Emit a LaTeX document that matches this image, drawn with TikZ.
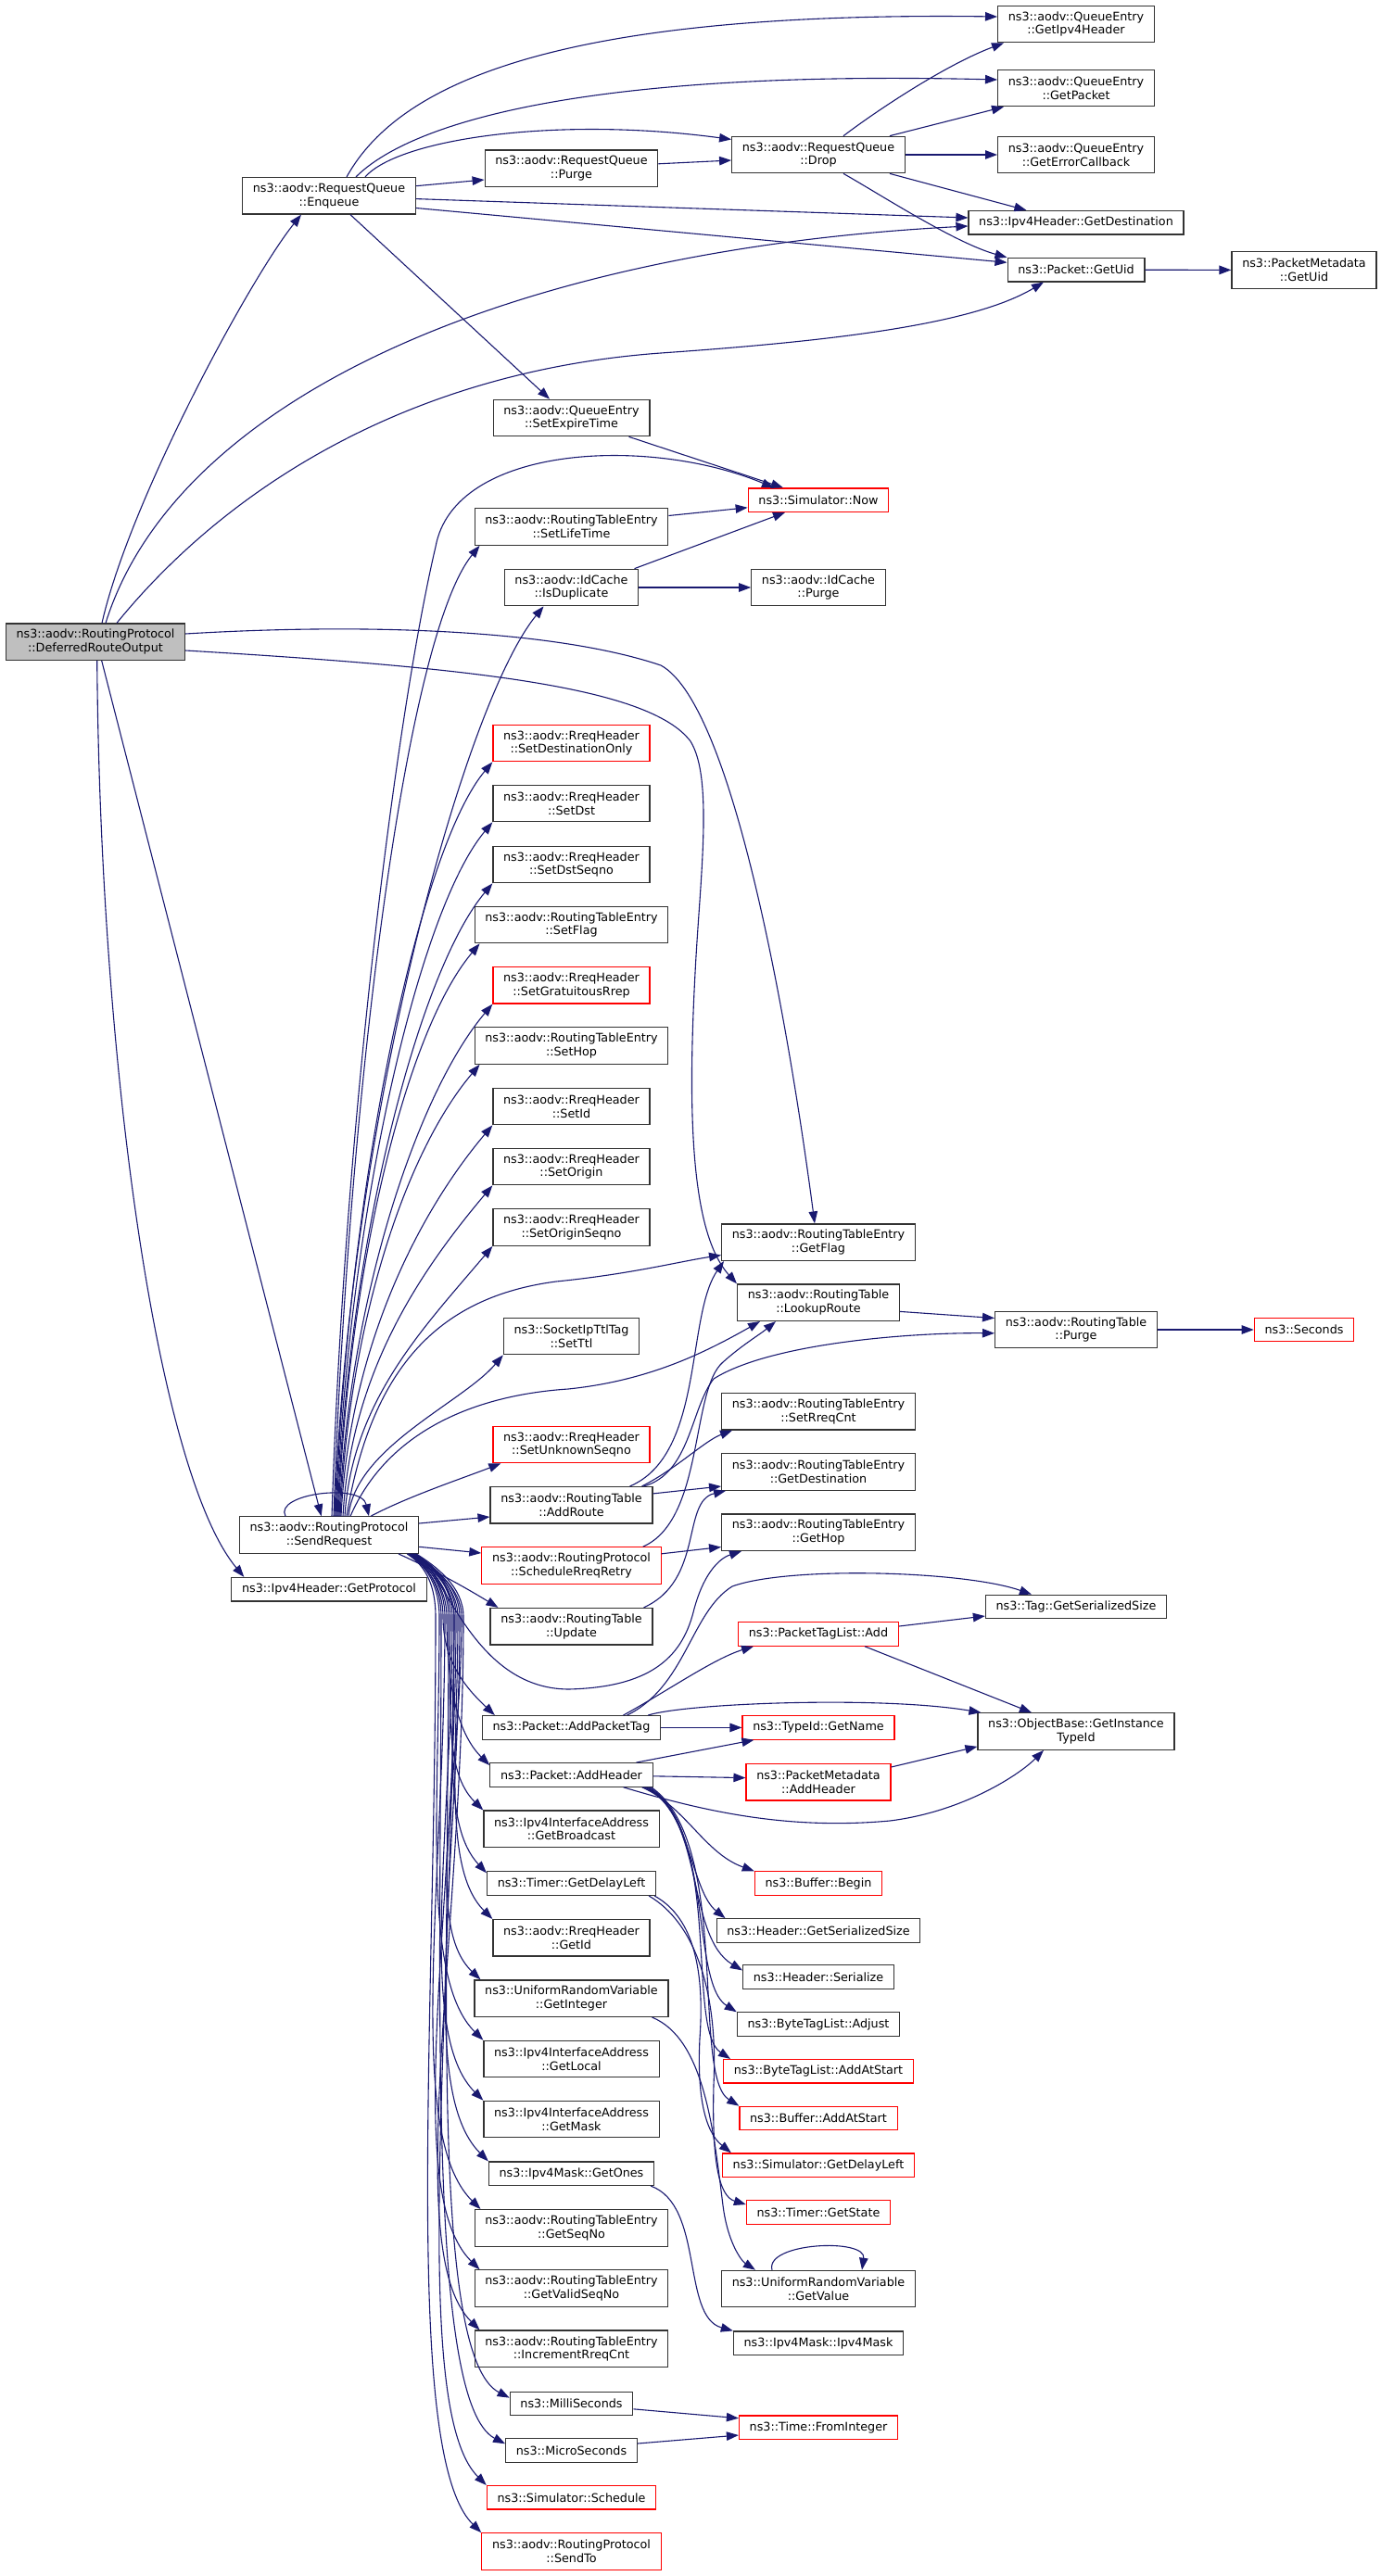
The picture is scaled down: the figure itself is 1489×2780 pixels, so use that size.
\documentclass[tikz,border=0pt]{standalone}
\usepackage{fontspec}
\setmainfont{DejaVu Sans}
\usepackage{tikz}
\usetikzlibrary{arrows.meta,calc}
\definecolor{edgeBlue}{HTML}{191970}
\definecolor{boxRed}{HTML}{FF0000}
\newcommand{\fnFont}{\fontsize{12.75}{14.7}\selectfont}
\tikzstyle{fnBox}=[draw=black!80, fill=white, line width=1.2pt, inner xsep=11.2pt, inner ysep=0pt, minimum height=25.5pt, align=center, font=\fnFont]
\tikzstyle{fnBoxRed}=[fnBox, draw=boxRed]
\tikzstyle{rootBox}=[fnBox, fill=black!25]
\tikzstyle{tall}=[minimum height=39.5pt]
\tikzstyle{callEdge}=[draw=edgeBlue, line width=1.1pt, -{Triangle[length=13pt, width=9.5pt]}]

\begin{document}
\begin{tikzpicture}[x=1pt, y=-1pt]
      \useasboundingbox (0,0) rectangle (1489,2780);
      % callers
      \node(dro) [rootBox, tall] at (103, 692.7){ns3::aodv::RoutingProtocol\\::DeferredRouteOutput};
      \node(enq) [fnBox, tall] at (355, 211.3){ns3::aodv::RequestQueue\\::Enqueue};
      \node(sreq) [fnBox, tall] at (355, 1656.6){ns3::aodv::RoutingProtocol\\::SendRequest};
      \node(gproto) [fnBox] at (355, 1715.2){ns3::Ipv4Header::GetProtocol};
      % third column
      \node(rqpurge) [fnBox, tall] at (616.5, 181.8){ns3::aodv::RequestQueue\\::Purge};
      \node(setexp) [fnBox, tall] at (616.5, 451){ns3::aodv::QueueEntry\\::SetExpireTime};
      \node(setlife) [fnBox, tall] at (616.5, 568.5){ns3::aodv::RoutingTableEntry\\::SetLifeTime};
      \node(isdup) [fnBox, tall] at (616.5, 634){ns3::aodv::IdCache\\::IsDuplicate};
      \node(setdo) [fnBoxRed, tall] at (616.5, 802){ns3::aodv::RreqHeader\\::SetDestinationOnly};
      \node(setdst) [fnBox, tall] at (616.5, 867){ns3::aodv::RreqHeader\\::SetDst};
      \node(setdsn) [fnBox, tall] at (616.5, 933){ns3::aodv::RreqHeader\\::SetDstSeqno};
      \node(setflag) [fnBox, tall] at (616.5, 998){ns3::aodv::RoutingTableEntry\\::SetFlag};
      \node(setgr) [fnBoxRed, tall] at (616.5, 1063.3){ns3::aodv::RreqHeader\\::SetGratuitousRrep};
      \node(sethop) [fnBox, tall] at (616.5, 1128.5){ns3::aodv::RoutingTableEntry\\::SetHop};
      \node(setid) [fnBox, tall] at (616.5, 1194){ns3::aodv::RreqHeader\\::SetId};
      \node(setorig) [fnBox, tall] at (616.5, 1259){ns3::aodv::RreqHeader\\::SetOrigin};
      \node(setosn) [fnBox, tall] at (616.5, 1324.6){ns3::aodv::RreqHeader\\::SetOriginSeqno};
      \node(setttl) [fnBox, tall] at (616.5, 1442){ns3::SocketIpTtlTag\\::SetTtl};
      \node(setusn) [fnBoxRed, tall] at (616.5, 1559){ns3::aodv::RreqHeader\\::SetUnknownSeqno};
      \node(addroute) [fnBox, tall] at (616.5, 1624.3){ns3::aodv::RoutingTable\\::AddRoute};
      \node(schedrr) [fnBoxRed, tall] at (616.5, 1689.5){ns3::aodv::RoutingProtocol\\::ScheduleRreqRetry};
      \node(update) [fnBox, tall] at (616.5, 1755.2){ns3::aodv::RoutingTable\\::Update};
      \node(addptag) [fnBox] at (616.5, 1864.4){ns3::Packet::AddPacketTag};
      \node(addhdr) [fnBox] at (616.5, 1915.4){ns3::Packet::AddHeader};
      \node(getbc) [fnBox, tall] at (616.5, 1973.8){ns3::Ipv4InterfaceAddress\\::GetBroadcast};
      \node(tgdl) [fnBox] at (616.5, 2032.6){ns3::Timer::GetDelayLeft};
      \node(getid) [fnBox, tall] at (616.5, 2091.3){ns3::aodv::RreqHeader\\::GetId};
      \node(getint) [fnBox, tall] at (616.5, 2156.7){ns3::UniformRandomVariable\\::GetInteger};
      \node(getlocal) [fnBox, tall] at (616.5, 2222){ns3::Ipv4InterfaceAddress\\::GetLocal};
      \node(getmask) [fnBox, tall] at (616.5, 2287){ns3::Ipv4InterfaceAddress\\::GetMask};
      \node(getones) [fnBox] at (616.5, 2345.7){ns3::Ipv4Mask::GetOnes};
      \node(getseq) [fnBox, tall] at (616.5, 2404.4){ns3::aodv::RoutingTableEntry\\::GetSeqNo};
      \node(getvseq) [fnBox, tall] at (616.5, 2469.6){ns3::aodv::RoutingTableEntry\\::GetValidSeqNo};
      \node(incrc) [fnBox, tall] at (616.5, 2534.8){ns3::aodv::RoutingTableEntry\\::IncrementRreqCnt};
      \node(msec) [fnBox] at (616.5, 2594){ns3::MilliSeconds};
      \node(usec) [fnBox] at (616.5, 2644.6){ns3::MicroSeconds};
      \node(sched) [fnBoxRed] at (616.5, 2695.3){ns3::Simulator::Schedule};
      \node(sendto) [fnBoxRed, tall] at (616.5, 2753.5){ns3::aodv::RoutingProtocol\\::SendTo};
      % fourth column
      \node(drop) [fnBox, tall] at (883, 167){ns3::aodv::RequestQueue\\::Drop};
      \node(now) [fnBoxRed] at (883, 539.7){ns3::Simulator::Now};
      \node(idpurge) [fnBox, tall] at (883, 634){ns3::aodv::IdCache\\::Purge};
      \node(getflag) [fnBox, tall] at (883, 1340.7){ns3::aodv::RoutingTableEntry\\::GetFlag};
      \node(lookup) [fnBox, tall] at (883, 1405.7){ns3::aodv::RoutingTable\\::LookupRoute};
      \node(setrc) [fnBox, tall] at (883, 1523.3){ns3::aodv::RoutingTableEntry\\::SetRreqCnt};
      \node(getdest) [fnBox, tall] at (883, 1588.5){ns3::aodv::RoutingTableEntry\\::GetDestination};
      \node(gethop) [fnBox, tall] at (883, 1653.7){ns3::aodv::RoutingTableEntry\\::GetHop};
      \node(ptladd) [fnBoxRed] at (883, 1763.4){ns3::PacketTagList::Add};
      \node(getname) [fnBoxRed] at (883, 1864.4){ns3::TypeId::GetName};
      \node(pmaddh) [fnBoxRed, tall] at (883, 1923.3){ns3::PacketMetadata\\::AddHeader};
      \node(bufbegin) [fnBoxRed] at (883, 2032.6){ns3::Buffer::Begin};
      \node(hgss) [fnBox] at (883, 2083.5){ns3::Header::GetSerializedSize};
      \node(hser) [fnBox] at (883, 2133.4){ns3::Header::Serialize};
      \node(btladj) [fnBox] at (883, 2184.6){ns3::ByteTagList::Adjust};
      \node(btlaas) [fnBoxRed] at (883, 2235.3){ns3::ByteTagList::AddAtStart};
      \node(bufaas) [fnBoxRed] at (883, 2286){ns3::Buffer::AddAtStart};
      \node(simgdl) [fnBoxRed] at (883, 2336.7){ns3::Simulator::GetDelayLeft};
      \node(tgstate) [fnBoxRed] at (883, 2387.4){ns3::Timer::GetState};
      \node(getval) [fnBox, tall] at (883, 2470){ns3::UniformRandomVariable\\::GetValue};
      \node(maskctor) [fnBox] at (883, 2528.7){ns3::Ipv4Mask::Ipv4Mask};
      \node(fromint) [fnBoxRed] at (883, 2619.7){ns3::Time::FromInteger};
      % fifth and sixth column
      \node(qipv4) [fnBox, tall] at (1161, 26){ns3::aodv::QueueEntry\\::GetIpv4Header};
      \node(qpkt) [fnBox, tall] at (1161, 95){ns3::aodv::QueueEntry\\::GetPacket};
      \node(qerr) [fnBox, tall] at (1161, 167){ns3::aodv::QueueEntry\\::GetErrorCallback};
      \node(gdest) [fnBox] at (1161, 240.2){ns3::Ipv4Header::GetDestination};
      \node(guid) [fnBox] at (1161, 291.2){ns3::Packet::GetUid};
      \node(rtpurge) [fnBox, tall] at (1161, 1435){ns3::aodv::RoutingTable\\::Purge};
      \node(tgss) [fnBox] at (1161, 1734){ns3::Tag::GetSerializedSize};
      \node(gitid) [fnBox, tall] at (1161, 1868.5){ns3::ObjectBase::GetInstance\\TypeId};
      \node(pmguid) [fnBox, tall] at (1407, 291.4){ns3::PacketMetadata\\::GetUid};
      \node(secs) [fnBoxRed] at (1407, 1435){ns3::Seconds};

      % DeferredRouteOutput
      \draw[callEdge] ([xshift=7pt]dro.north) .. controls (140,540) and (270,300) .. ([xshift=-30pt]enq.south);
      \draw[callEdge] ([xshift=11pt]dro.north) .. controls (190,430) and (550,270) .. ([yshift=-3.8pt]gdest.west);
      \draw[callEdge] ([xshift=23pt]dro.north) .. controls (250,520) and (450,400) .. (713,381) .. controls (900,368) and (1050,350) .. ([xshift=-35pt]guid.south);
      \draw[callEdge] ([yshift=8.7pt]dro.east) .. controls (400,672) and (600,680) .. (713,718) .. controls (790,760) and (850,1100) .. ([xshift=-4pt]getflag.north);
      \draw[callEdge] ([yshift=-9.3pt]dro.east) .. controls (500,720) and (700,740) .. (745,800) .. controls (770,840) and (755,950) .. (750,1050) .. controls (742,1200) and (745,1330) .. (lookup.north west);
      \draw[callEdge] ([xshift=6.7pt]dro.south) -- ([xshift=-8.3pt]sreq.north);
      \draw[callEdge] ([xshift=1.7pt]dro.south) .. controls (108,1150) and (170,1590) .. ([xshift=14pt]gproto.north west);

      % Enqueue, Purge, Drop
      \draw[callEdge] ([xshift=19pt]enq.north) .. controls (430,90) and (600,12) .. ([yshift=8pt]qipv4.west);
      \draw[callEdge] ([xshift=29pt]enq.north) .. controls (440,135) and (620,75) .. ([yshift=9pt]qpkt.west);
      \draw[callEdge] ([xshift=39pt]enq.north) .. controls (430,150) and (600,125) .. (drop.170);
      \draw[callEdge] ([yshift=10.6pt]enq.east) -- ([yshift=-12.2pt]rqpurge.west);
      \draw[callEdge] ([yshift=-3.3pt]enq.east) -- ([yshift=5.2pt]gdest.west);
      \draw[callEdge] ([yshift=-13.2pt]enq.east) -- ([yshift=7.9pt]guid.west);
      \draw[callEdge] ([xshift=23pt]enq.south) -- ([xshift=-23.5pt]setexp.north);
      \draw[callEdge] ([yshift=5pt]rqpurge.east) -- ([yshift=-6pt]drop.west);
      \draw[callEdge] ([xshift=27pt]drop.north) .. controls (945,120) and (1020,70) .. ([xshift=7pt]qipv4.south west);
      \draw[callEdge] ([xshift=-17pt]drop.north east) -- ([xshift=7pt]qpkt.south west);
      \draw[callEdge] (drop.east) -- (qerr.west);
      \draw[callEdge] ([xshift=-17pt]drop.south east) -- ([xshift=63pt]gdest.north west);
      \draw[callEdge] ([xshift=27pt]drop.south) .. controls (950,210) and (1030,262) .. (guid.north west);
      \draw[callEdge] (guid.east) -- (pmguid.west);
      \draw[callEdge] ([xshift=62pt]setexp.south) -- ([xshift=-38pt]now.north);
      \draw[callEdge] ([yshift=12pt]setlife.east) -- ([yshift=-8.1pt]now.west);
      \draw[callEdge] ([xshift=68pt]isdup.north) -- ([xshift=-36pt]now.south);
      \draw[callEdge] (isdup.east) -- (idpurge.west);

      % SendRequest, upwards
      \draw[callEdge] ([xshift=-47pt]sreq.north) .. controls (295,1612) and (390,1600) .. ([xshift=43pt]sreq.north);
      \draw[callEdge] ([xshift=3pt]sreq.north) .. controls (372,1200) and (430,760) .. (470,590) .. controls (490,480) and (700,470) .. ([xshift=-48pt]now.north);
      \draw[callEdge] ([xshift=5pt]sreq.north) .. controls (375.5,1188) and (436.7,688) .. ([xshift=6pt]setlife.south west);
      \draw[callEdge] ([xshift=6pt]sreq.north) .. controls (376,1214) and (500,760) .. ([xshift=-30pt]isdup.south);
      \draw[callEdge] ([xshift=7pt]sreq.north) .. controls (375,1286) and (451,918) .. (setdo.south west);
      \draw[callEdge] ([xshift=8pt]sreq.north) .. controls (375.5,1314.5) and (451,983) .. (setdst.south west);
      \draw[callEdge] ([xshift=9pt]sreq.north) .. controls (376,1343) and (451,1049) .. (setdsn.south west);
      \draw[callEdge] ([xshift=10pt]sreq.north) .. controls (376,1371) and (437,1114) .. ([xshift=6pt]setflag.south west);
      \draw[callEdge] ([xshift=11pt]sreq.north) .. controls (376.5,1399) and (451,1179) .. (setgr.south west);
      \draw[callEdge] ([xshift=12pt]sreq.north) .. controls (377,1427) and (437,1244) .. ([xshift=6pt]sethop.south west);
      \draw[callEdge] ([xshift=13pt]sreq.north) .. controls (377,1455) and (451,1309.5) .. (setid.south west);
      \draw[callEdge] ([xshift=15pt]sreq.north) .. controls (378.6,1483) and (451,1374.7) .. (setorig.south west);
      \draw[callEdge] ([xshift=17pt]sreq.north) .. controls (380,1511) and (458,1432) .. (setosn.south west);
      \draw[callEdge] ([xshift=19pt]sreq.north) .. controls (400,1480) and (470,1400) .. (600,1383) .. controls (680,1375) and (730,1362) .. ([yshift=-13.8pt]getflag.west);
      \draw[callEdge] ([xshift=21pt]sreq.north) .. controls (383,1562) and (499,1514) .. (setttl.south west);
      \draw[callEdge] ([xshift=23pt]sreq.north) .. controls (420,1540) and (520,1505) .. (613,1499) .. controls (700,1490) and (760,1460) .. ([xshift=25pt]lookup.south west);
      \draw[callEdge] ([xshift=45pt]sreq.north) .. controls (440,1615) and (500,1595) .. ([xshift=9pt]setusn.south west);
      \draw[callEdge] ([yshift=12.6pt]sreq.east) -- ([yshift=-12.7pt]addroute.west);
      \draw[callEdge] ([yshift=-12.7pt]sreq.east) -- ([yshift=13.5pt]schedrr.west);

      % SendRequest, downwards
      \draw[callEdge] ([xshift=75pt]sreq.south) .. controls (470,1695) and (505,1715) .. ([xshift=9pt]update.north west);
      \draw[callEdge] ([xshift=-4pt]sreq.south east) .. controls (480,1695) and (510,1822) .. (613,1823) .. controls (700,1821) and (735,1790) .. (748,1740) .. controls (758,1700) and (775,1682) .. ([xshift=22pt]gethop.south west);
      \draw[callEdge] ([xshift=-12pt]sreq.south east) .. controls (461,1690) and (478,1712) .. (478,1745) .. controls (478,1793) and (503,1822) .. ([xshift=14pt]addptag.north west);
      \draw[callEdge] ([xshift=-11pt]sreq.south east) .. controls (462,1690) and (482,1712) .. (482,1745) .. controls (482,1817) and (493,1870) .. ([yshift=-3pt]addhdr.north west);
      \draw[callEdge] ([xshift=-10pt]sreq.south east) .. controls (463,1690) and (486,1712) .. (486,1745) .. controls (486,1839) and (479,1912) .. (getbc.north west);
      \draw[callEdge] ([xshift=-9pt]sreq.south east) .. controls (464,1690) and (490,1712) .. (490,1745) .. controls (490,1868) and (477,1970) .. ([yshift=-2pt]tgdl.north west);
      \draw[callEdge] ([xshift=-8pt]sreq.south east) .. controls (465,1690) and (494,1712) .. (494,1745) .. controls (494,1892) and (477,2017) .. (getid.north west);
      \draw[callEdge] ([xshift=-7pt]sreq.south east) .. controls (466,1690) and (498,1712) .. (498,1745) .. controls (498,1921) and (456,2077) .. ([xshift=7pt]getint.north west);
      \draw[callEdge] ([xshift=-12pt]sreq.south east) .. controls (461,1690) and (474,1712) .. (474,1745) .. controls (474,1951) and (455,2136) .. (getlocal.north west);
      \draw[callEdge] ([xshift=-6pt]sreq.south east) .. controls (467,1690) and (488,1712) .. (488,1745) .. controls (488,1980) and (449,2195) .. (getmask.north west);
      \draw[callEdge] ([xshift=-5pt]sreq.south east) .. controls (468,1690) and (496,1712) .. (496,1745) .. controls (496,2010) and (449,2255) .. (getones.north west);
      \draw[callEdge] ([xshift=-10pt]sreq.south east) .. controls (463,1690) and (480,1712) .. (480,1745) .. controls (480,2033) and (436,2303) .. ([xshift=7pt]getseq.north west);
      \draw[callEdge] ([xshift=-4pt]sreq.south east) .. controls (469,1690) and (492,1712) .. (492,1745) .. controls (492,2062) and (432,2365) .. ([xshift=6pt]getvseq.north west);
      \draw[callEdge] ([xshift=-3pt]sreq.south east) .. controls (470,1690) and (500,1712) .. (500,1745) .. controls (500,2091) and (432,2430) .. ([xshift=6pt]incrc.north west);
      \draw[callEdge] ([xshift=-8pt]sreq.south east) .. controls (465,1690) and (484,1712) .. (484,1745) .. controls (484,2124) and (464,2543) .. ([yshift=-7pt]msec.north west);
      \draw[callEdge] ([xshift=-11pt]sreq.south east) .. controls (462,1690) and (476,1712) .. (476,1745) .. controls (476,2147) and (460,2593) .. ([yshift=-6pt]usec.north west);
      \draw[callEdge] ([xshift=-6pt]sreq.south east) .. controls (467,1690) and (490,1712) .. (490,1745) .. controls (490,2167) and (440,2597.6) .. (sched.north west);
      \draw[callEdge] ([xshift=-13pt]sreq.south east) .. controls (460,1690) and (470,1712) .. (470,1745) .. controls (470,2190) and (433.7,2648.8) .. (sendto.north west);

      % routing table calls
      \draw[callEdge] ([xshift=-12pt]addroute.north east) .. controls (730,1585) and (760,1555) .. ([xshift=12pt]setrc.south west);
      \draw[callEdge] ([yshift=12.4pt]addroute.east) -- ([yshift=-15.5pt]getdest.west);
      \draw[callEdge] ([xshift=-10pt]addroute.north east) .. controls (745,1590) and (745,1520) .. (770,1488) .. controls (830,1450) and (980,1438) .. ([yshift=-3.8pt]rtpurge.west);
      \draw[callEdge] ([xshift=-25pt]addroute.north east) .. controls (760,1570) and (740,1420) .. ([xshift=3pt]getflag.south west);
      \draw[callEdge] ([yshift=12.7pt]schedrr.east) -- ([yshift=-15.8pt]gethop.west);
      \draw[callEdge] ([xshift=-20pt]schedrr.north east) .. controls (760,1640) and (745,1500) .. (780,1470) .. controls (800,1452) and (820,1440) .. ([xshift=42pt]lookup.south west);
      \draw[callEdge] ([xshift=-10pt]update.north east) .. controls (760,1705) and (735,1620) .. ([xshift=5pt]getdest.south west);
      \draw[callEdge] ([yshift=-9.7pt]lookup.east) -- ([yshift=12.5pt]rtpurge.west);
      \draw[callEdge] (rtpurge.east) -- (secs.west);

      % packet calls
      \draw[callEdge] ([xshift=56pt]addptag.north) .. controls (720,1825) and (770,1790) .. ([xshift=17pt]ptladd.south west);
      \draw[callEdge] ([xshift=60pt]addptag.north) .. controls (740,1820) and (745,1740) .. (790,1712) .. controls (850,1690) and (1040,1695) .. ([xshift=-48pt]tgss.north);
      \draw[callEdge] (addptag.east) -- (getname.west);
      \draw[callEdge] ([xshift=-14pt]addptag.north east) .. controls (740,1838) and (950,1830) .. ([xshift=4pt]gitid.north west);
      \draw[callEdge] ([xshift=70pt]addhdr.north) -- ([xshift=13pt]getname.south west);
      \draw[callEdge] ([yshift=-1.4pt]addhdr.east) -- ([yshift=4.7pt]pmaddh.west);
      \draw[callEdge] ([xshift=56pt]addhdr.south) .. controls (760,1955) and (850,1975) .. (960,1965) .. controls (1040,1955) and (1100,1915) .. ([xshift=-35pt]gitid.south);
      \draw[callEdge] ([xshift=-12pt]addhdr.south east) .. controls (740,1950) and (760,2000) .. (bufbegin.north west);
      \draw[callEdge] ([xshift=-10pt]addhdr.south east) .. controls (745,1950) and (745,2040) .. ([xshift=10pt]hgss.north west);
      \draw[callEdge] ([xshift=-8pt]addhdr.south east) .. controls (760,1960) and (740,2090) .. ([yshift=7pt]hser.west);
      \draw[callEdge] ([xshift=-6pt]addhdr.south east) .. controls (770,1970) and (745,2140) .. (btladj.north west);
      \draw[callEdge] ([xshift=-4pt]addhdr.south east) .. controls (780,1980) and (740,2190) .. ([xshift=8pt]btlaas.north west);
      \draw[callEdge] ([xshift=-2pt]addhdr.south east) .. controls (790,1990) and (745,2240) .. (bufaas.north west);
      \draw[callEdge] ([yshift=8.4pt]ptladd.east) -- ([yshift=-10pt]tgss.west);
      \draw[callEdge] ([xshift=50pt]ptladd.south) -- ([xshift=-48pt]gitid.north);
      \draw[callEdge] ([yshift=16.3pt]pmaddh.east) -- ([yshift=4pt]gitid.south west);

      % timers, random values, masks
      \draw[callEdge] ([xshift=-2pt]tgdl.south east) .. controls (750,2070) and (760,2130) .. (755,2200) .. controls (752,2260) and (760,2300) .. ([xshift=10pt]simgdl.north west);
      \draw[callEdge] ([xshift=-8pt]tgdl.south east) .. controls (750,2075) and (775,2150) .. (770,2250) .. controls (768,2330) and (775,2370) .. ([yshift=-5pt]tgstate.north west);
      \draw[callEdge] ([xshift=-18pt]getint.south east) .. controls (760,2200) and (770,2300) .. (780,2380) .. controls (785,2420) and (800,2440) .. ([xshift=37pt]getval.north west);
      \draw[callEdge] ([xshift=-50pt]getval.north) .. controls (825,2420) and (935,2415) .. ([xshift=47pt]getval.north);
      \draw[callEdge] ([xshift=-4pt]getones.south east) .. controls (760,2380) and (735,2500) .. (maskctor.north west);
      \draw[callEdge] ([yshift=-5.8pt]msec.east) -- ([yshift=10pt]fromint.west);
      \draw[callEdge] ([yshift=7.6pt]usec.east) -- ([yshift=-8.3pt]fromint.west);
\end{tikzpicture}
\end{document}
